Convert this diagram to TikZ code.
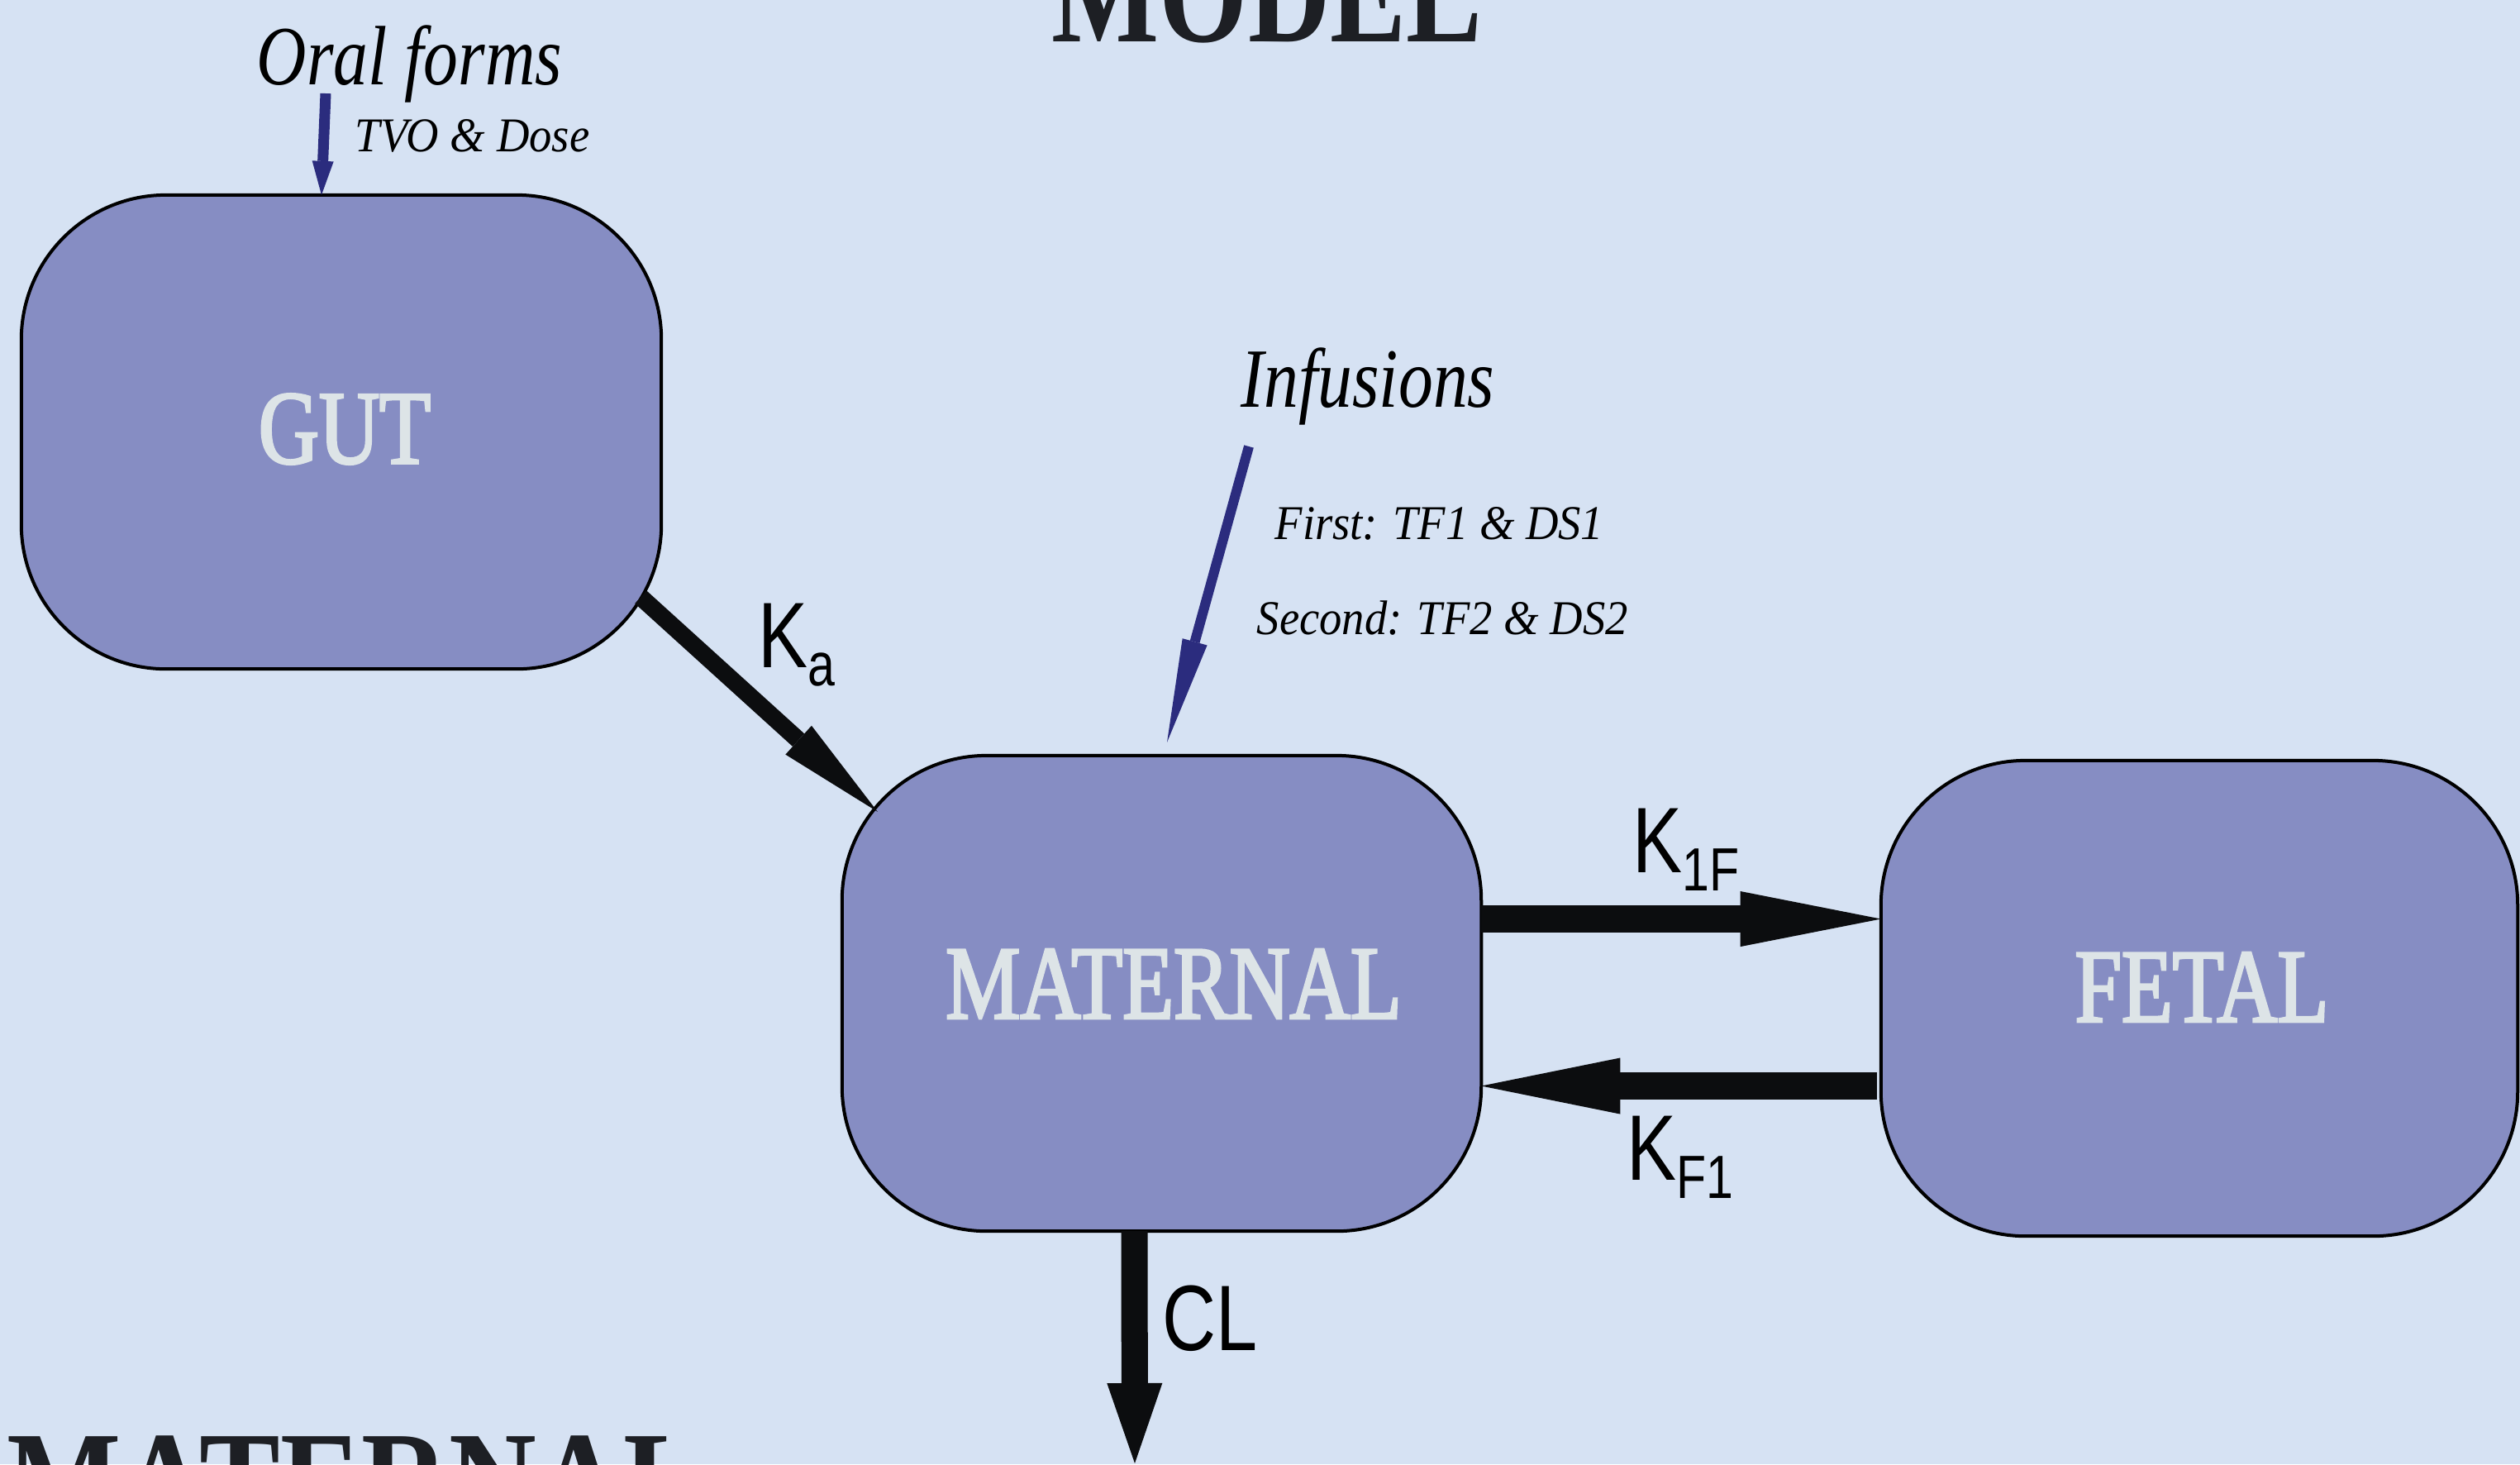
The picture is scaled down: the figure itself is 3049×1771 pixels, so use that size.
\documentclass[tikz,border=0pt]{standalone}
\usepackage{fontspec}
\usetikzlibrary{arrows.meta,calc}

% Typefaces
\newfontfamily\boxfont[FakeStretch=0.80,FakeBold=2.4]{Liberation Serif}
\newfontfamily\titlefont[FakeStretch=0.80]{Liberation Serif}
\newfontfamily\footfont[FakeStretch=0.85]{Liberation Serif}
\newfontfamily\bignotefont[FakeStretch=0.82]{Liberation Serif}
\newfontfamily\smallnotefont[FakeStretch=0.93]{Liberation Serif}
\newfontfamily\ratefont[FakeStretch=0.80]{Liberation Sans}

% Palette
\definecolor{bgblue}{RGB}{214,226,243}
\definecolor{compfill}{RGB}{134,141,195}
\definecolor{comptext}{RGB}{221,228,231}
\definecolor{dosenavy}{RGB}{43,44,126}
\definecolor{flowblack}{RGB}{12,13,15}
\definecolor{titleink}{RGB}{29,31,36}

% Rate constant with a lowered index
\newcommand{\ratek}[2]{{\fontsize{32}{32}\selectfont #1}\raisebox{-6.3pt}{\fontsize{21}{21}\selectfont #2}}

\begin{document}
\begin{tikzpicture}[x=0.01cm,y=-0.01cm,
  compartment/.style={draw=black, fill=compfill, line width=0.04cm,
    rounded corners=1.75cm, inner sep=0pt, outer sep=0pt},
  boxtxt/.style={text=comptext, inner sep=0pt,
    font=\boxfont\fontsize{36}{36}\selectfont},
  titletxt/.style={text=titleink, inner sep=0pt,
    font=\titlefont\bfseries\fontsize{49}{49}\selectfont},
  foottxt/.style={text=titleink, inner sep=0pt,
    font=\footfont\bfseries\fontsize{49}{49}\selectfont},
  ratetxt/.style={anchor=base west, inner sep=0pt, text=black, font=\ratefont},
  bignote/.style={anchor=base west, inner sep=0pt, text=black,
    font=\bignotefont\itshape\fontsize{29}{29}\selectfont},
  smallnote/.style={anchor=base west, inner sep=0pt, text=black,
    font=\smallnotefont\itshape\fontsize{16.7}{16.7}\selectfont},
  flow/.style n args={3}{draw=flowblack, line width=#1,
    -{Triangle[length=#3, width=#2, line width=0pt]}},
  dose/.style n args={3}{draw=dosenavy, line width=#1,
    -{Triangle[length=#3, width=#2, line width=0pt]}}
]
% canvas
\fill[bgblue] (0,0) rectangle (3049,1771);
\clip (0,0) rectangle (3049,1771);

% headings (partly outside the frame)
\node[titletxt, anchor=base] (title) at (1533,50) {MODEL};
\node[foottxt, anchor=base west] (footer) at (8,1850) {MATERNAL};

% compartments
\node[compartment, minimum width=7.74cm, minimum height=5.73cm] (gut) at (413,522.5) {};
\node[compartment, minimum width=7.73cm, minimum height=5.75cm] (maternal) at (1405.5,1201.5) {};
\node[compartment, minimum width=7.70cm, minimum height=5.75cm] (fetal) at (2661,1207.5) {};

\node[boxtxt] (gutname) at (417,519) {GUT};
\node[boxtxt] (matname) at (1420,1190) {MATERNAL};
\node[boxtxt] (fetname) at (2664,1194) {FETAL};

% dosing inputs
\coordinate (oralS) at (394,113);
\coordinate (oralT) at ($(gut.north)+(-24,0)$);
\draw[dose={0.13cm}{0.26cm}{0.41cm}] (oralS) -- (oralT);
\node[bignote] (oral) at (310,102) {Oral forms};
\node[smallnote] (oraldose) at (429,183) {TVO \& Dose};

\coordinate (infS) at (1511,540);
\coordinate (infT) at ($(maternal.north)+(6.5,-16)$);
\draw[dose={0.12cm}{0.31cm}{1.26cm}] (infS) -- (infT);
\node[bignote] (infus) at (1501,492) {Infusions};
\node[smallnote] (first) at (1542,652) {First: TF1 \& DS1};
\node[smallnote] (second) at (1520,767) {Second: TF2 \& DS2};

% transfer between compartments
\coordinate (kaS) at ($(gut.south east)+(-25,-87)$);
\coordinate (kaT) at ($(maternal.north west)+(43,68)$);
\draw[flow={0.21cm}{0.47cm}{1.29cm}] (kaS) -- (kaT);
\node[ratetxt] (ka) at (917,807) {\ratek{K}{a}};

\coordinate (k1fS) at ($(maternal.east)+(0,-90)$);
\draw[flow={0.33cm}{0.67cm}{1.70cm}] (k1fS) -- (k1fS -| fetal.west);
\node[ratetxt] (k1f) at (1975,1055) {\ratek{K}{1F}};

\coordinate (kf1S) at ($(fetal.west)+(-5,106)$);
\draw[flow={0.33cm}{0.68cm}{1.68cm}] (kf1S) -- (kf1S -| maternal.east);
\node[ratetxt] (kf1) at (1968,1427) {\ratek{K}{F1}};

% elimination
\coordinate (clS) at ($(maternal.south)+(-33,0)$);
\coordinate (clT) at (1373,1770);
\draw[flow={0.32cm}{0.67cm}{0.97cm}] (clS) -- (clT);
\node[ratetxt] (cl) at (1406,1633) {\fontsize{32}{32}\selectfont CL};
\end{tikzpicture}
\end{document}
